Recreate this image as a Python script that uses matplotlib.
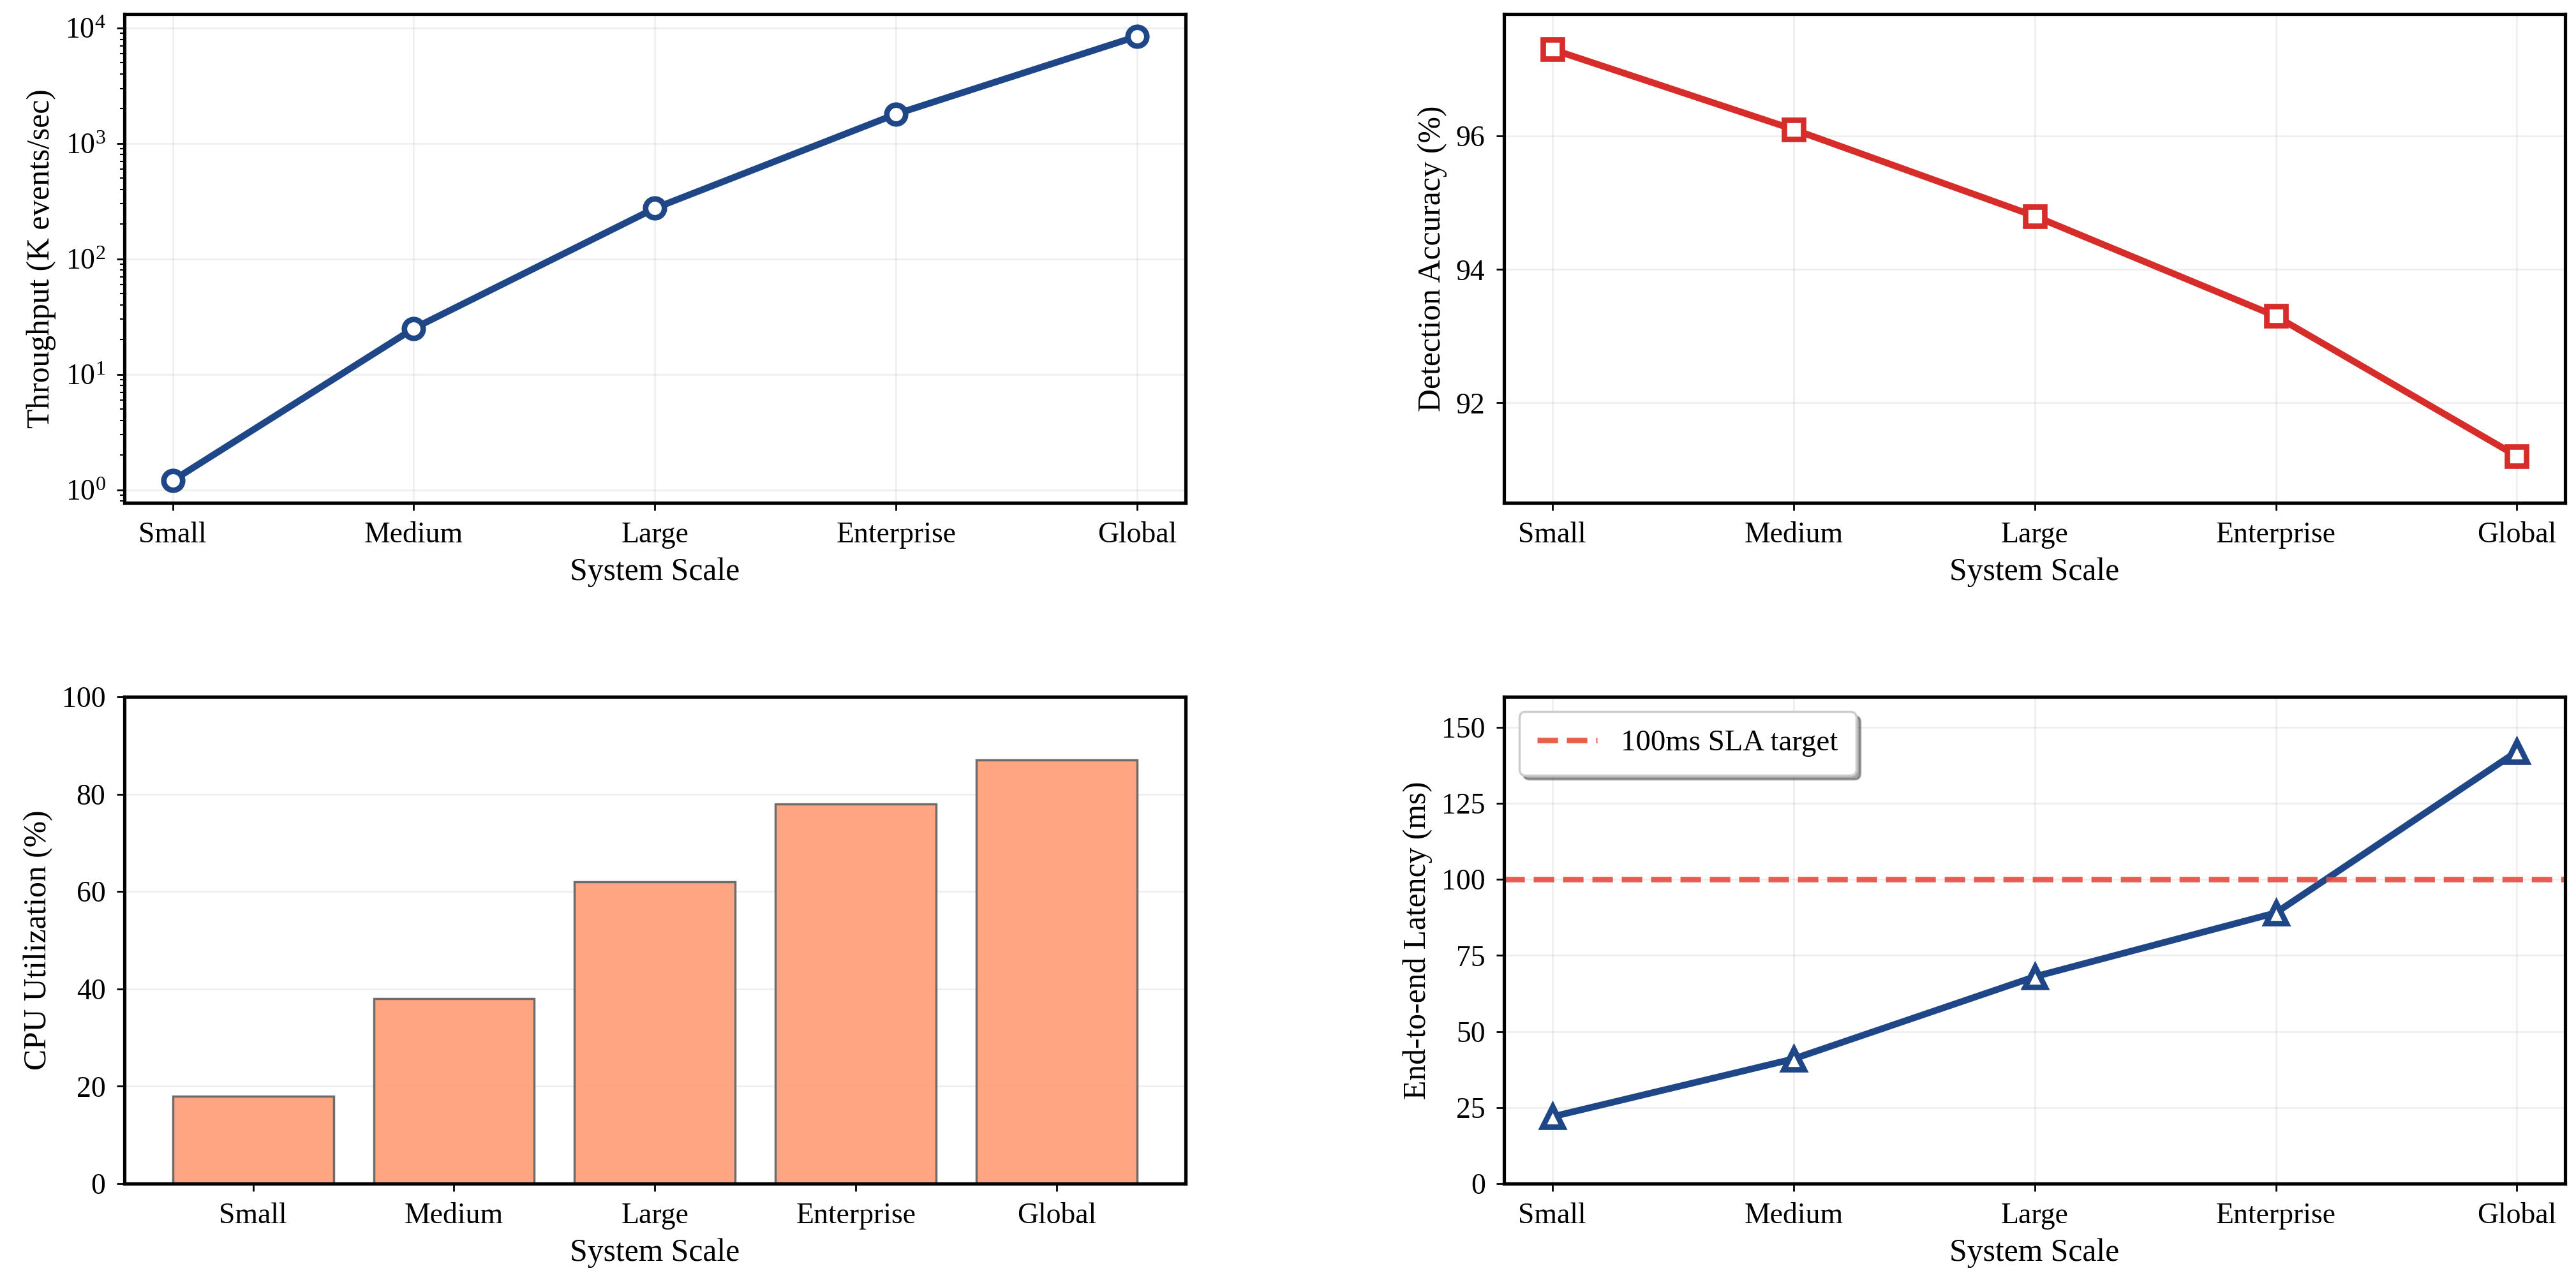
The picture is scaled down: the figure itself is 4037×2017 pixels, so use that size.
import matplotlib
matplotlib.use("Agg")
import matplotlib.pyplot as plt
import numpy as np

# Data
scales = ["Small", "Medium", "Large", "Enterprise", "Global"]
throughput = [1.2, 25, 275, 1800, 8500]        # K events/sec
accuracy = [97.3, 96.1, 94.8, 93.3, 91.2]      # %
cpu_util = [18, 38, 62, 78, 87]                # %
latency = [22, 41, 68, 89, 142]                # ms
latency_ticks = [0, 25, 50, 75, 100, 125, 150]
sla_target = 100

plt.rcParams["font.family"] = ["Liberation Serif", "DejaVu Serif"]
plt.rcParams["mathtext.fontset"] = "custom"
plt.rcParams["mathtext.rm"] = "Liberation Serif"
plt.rcParams["mathtext.it"] = "Liberation Serif:italic"
plt.rcParams["mathtext.bf"] = "Liberation Serif:bold"
plt.rcParams["axes.linewidth"] = 1.5

BLUE = "#1f4788"
RED = "#d62d2a"
TICK_FS = 13.2
LABEL_FS = 14.3

fig = plt.figure(figsize=(16.148, 8.068), dpi=250)
ax1 = fig.add_axes([0.0483, 0.6093, 0.4119, 0.3798])
ax2 = fig.add_axes([0.5839, 0.6093, 0.4119, 0.3798])
ax3 = fig.add_axes([0.0483, 0.0803, 0.4119, 0.3783])
ax4 = fig.add_axes([0.5839, 0.0803, 0.4119, 0.3783])

x = np.arange(len(scales))

# Throughput (log scale)
ax1.plot(x, throughput, color=BLUE, lw=3, marker="o", ms=8.5,
         mfc="white", mec=BLUE, mew=2.5)
ax1.set_yscale("log")
ax1.set_ylabel("Throughput (K events/sec)", fontsize=LABEL_FS)

# Detection accuracy
ax2.plot(x, accuracy, color=RED, lw=3, marker="s", ms=8.5,
         mfc="white", mec=RED, mew=2.5)
ax2.set_ylim(90.5, 97.83)
ax2.set_yticks([92, 94, 96])
ax2.set_ylabel("Detection Accuracy (%)", fontsize=LABEL_FS)

# CPU utilization bars
ax3.bar(x, cpu_util, width=0.8, color="#FFA07A", alpha=0.95,
        edgecolor="#666666", linewidth=1)
ax3.set_ylim(0, 100)
ax3.set_ylabel("CPU Utilization (%)", fontsize=LABEL_FS)

# Latency with SLA target
ax4.plot(x, latency, color=BLUE, lw=3, marker="^", ms=9,
         mfc="white", mec=BLUE, mew=2.5)
ax4.axhline(sla_target, color="#e74c3c", ls="--", lw=2.5, alpha=0.9,
            label="100ms SLA target")
ax4.set_ylim(0, 160)
ax4.set_yticks(latency_ticks)
ax4.set_ylabel("End-to-end Latency (ms)", fontsize=LABEL_FS)
ax4.legend(loc="upper left", fontsize=13.5, fancybox=True, shadow=True,
           borderpad=0.6)

for ax in (ax1, ax2, ax3, ax4):
    ax.set_xticks(x)
    ax.set_xticklabels(scales)
    ax.set_xlabel("System Scale", fontsize=LABEL_FS, labelpad=4)
    ax.tick_params(labelsize=TICK_FS, pad=5)
    ax.grid(True, alpha=0.2)
    ax.set_axisbelow(True)
ax3.grid(False)
ax3.yaxis.grid(True, alpha=0.2)

fig.savefig("out.png", dpi=250)
plt.close(fig)
